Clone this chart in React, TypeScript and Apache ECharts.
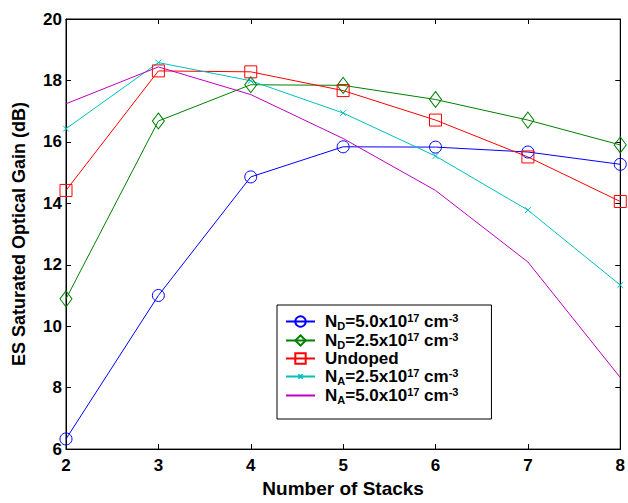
import React, { useEffect, useRef } from "react";
import * as echarts from "echarts";

const stacks = [2, 3, 4, 5, 6, 7, 8];
const nd50 = [6.33, 11.0, 14.86, 15.84, 15.83, 15.67, 15.27];
const nd25 = [10.89, 16.68, 17.86, 17.84, 17.38, 16.71, 15.9];
const undoped = [14.42, 18.31, 18.28, 17.67, 16.71, 15.51, 14.06];
const na25 = [16.43, 18.58, 17.99, 16.94, 15.54, 13.78, 11.34];
const na50 = [17.24, 18.44, 17.54, 16.11, 14.42, 12.09, 8.33];

const seriesNames = ["ND50", "ND25", "Undoped", "NA25", "NA50"];
const legendRich: Record<string, string> = {
  ND50: "{n|N}{sub|D}{n|=5.0x10}{sup|17}{n| cm}{sup|-3}",
  ND25: "{n|N}{sub|D}{n|=2.5x10}{sup|17}{n| cm}{sup|-3}",
  Undoped: "{n|Undoped}",
  NA25: "{n|N}{sub|A}{n|=2.5x10}{sup|17}{n| cm}{sup|-3}",
  NA50: "{n|N}{sub|A}{n|=5.0x10}{sup|17}{n| cm}{sup|-3}",
};

const FONT = "'Liberation Sans', Arial, sans-serif";
const CROSS = "path://M-7,-7M0,0L10,10M10,0L0,10M17,17";

export default function App() {
  const ref = useRef<HTMLDivElement>(null);
  useEffect(() => {
    if (!ref.current) return;
    const chart = echarts.init(ref.current, undefined, { renderer: "svg" });
    const pair = (arr: number[]) => stacks.map((x, i) => [x, arr[i]]);
    const mk = (
      name: string,
      arr: number[],
      color: string,
      symbol: string,
      size: number | number[]
    ) => ({
      name,
      type: "line",
      data: pair(arr),
      symbol,
      symbolSize: size,
      showSymbol: symbol !== "none",
      lineStyle: { color, width: 1 },
      itemStyle: { color: "rgba(255,255,255,0)", borderColor: color, borderWidth: 1 },
      emphasis: { disabled: true },
    });
    const tickStyle = { show: true, inside: true, length: 5, lineStyle: { color: "#000", width: 1 } };
    const n = { fontFamily: FONT, fontWeight: "bold", fontSize: 17, color: "#000", lineHeight: 19 };
    chart.setOption({
      animation: false,
      backgroundColor: "#fff",
      grid: { left: 66, right: 7, top: 19, bottom: 49, show: true, borderColor: "#000", borderWidth: 1 },
      xAxis: [
        {
          type: "value",
          min: 2,
          max: 8,
          interval: 1,
          name: "Number of Stacks",
          nameLocation: "middle",
          nameGap: 29,
          nameTextStyle: { fontFamily: FONT, fontWeight: "bold", fontSize: 19, color: "#000" },
          axisLine: { lineStyle: { color: "#000", width: 1 } },
          axisTick: tickStyle,
          axisLabel: { margin: 8, fontFamily: FONT, fontWeight: "bold", fontSize: 17, color: "#000" },
          splitLine: { show: false },
        },
        {
          type: "value",
          position: "top",
          min: 2,
          max: 8,
          interval: 1,
          axisLine: { lineStyle: { color: "#000", width: 1 } },
          axisTick: tickStyle,
          axisLabel: { show: false },
          splitLine: { show: false },
        },
      ],
      yAxis: [
        {
          type: "value",
          min: 6,
          max: 20,
          interval: 2,
          name: "ES Saturated Optical Gain (dB)",
          nameLocation: "middle",
          nameGap: 38,
          nameTextStyle: { fontFamily: FONT, fontWeight: "bold", fontSize: 18, color: "#000" },
          axisLine: { show: true, lineStyle: { color: "#000", width: 1 } },
          axisTick: tickStyle,
          axisLabel: { margin: 4, fontFamily: FONT, fontWeight: "bold", fontSize: 17, color: "#000" },
          splitLine: { show: false },
        },
        {
          type: "value",
          position: "right",
          min: 6,
          max: 20,
          interval: 2,
          axisLine: { show: true, lineStyle: { color: "#000", width: 1 } },
          axisTick: tickStyle,
          axisLabel: { show: false },
          splitLine: { show: false },
        },
      ],
      legend: {
        orient: "vertical",
        left: 277,
        top: 305,
        data: seriesNames.map((nm) =>
          nm === "NA50" ? { name: nm, itemStyle: { opacity: 0 } } : { name: nm }
        ),
        backgroundColor: "#fff",
        borderColor: "#000",
        borderWidth: 1,
        padding: [7, 33, 14, 8],
        itemGap: 0,
        itemWidth: 29,
        itemHeight: 13,
        selectedMode: false,
        formatter: (name: string) => legendRich[name] ?? name,
        textStyle: {
          padding: [0, 0, 0, 5],
          rich: {
            n,
            sub: { ...n, fontSize: 11, verticalAlign: "bottom" },
            sup: { ...n, fontSize: 11, verticalAlign: "top" },
          },
        },
      },
      series: [
        mk("ND50", nd50, "#0000ff", "circle", 12),
        mk("ND25", nd25, "#008000", "diamond", [12, 16]),
        mk("Undoped", undoped, "#ff0000", "rect", 12),
        mk("NA25", na25, "#00bfbf", CROSS, 14),
        mk("NA50", na50, "#bf00bf", "none", 1),
      ],
    });
    return () => chart.dispose();
  }, []);
  return (
    <div
      ref={ref}
      style={{ position: "fixed", left: 0, top: 0, width: 628, height: 503 }}
    />
  );
}
